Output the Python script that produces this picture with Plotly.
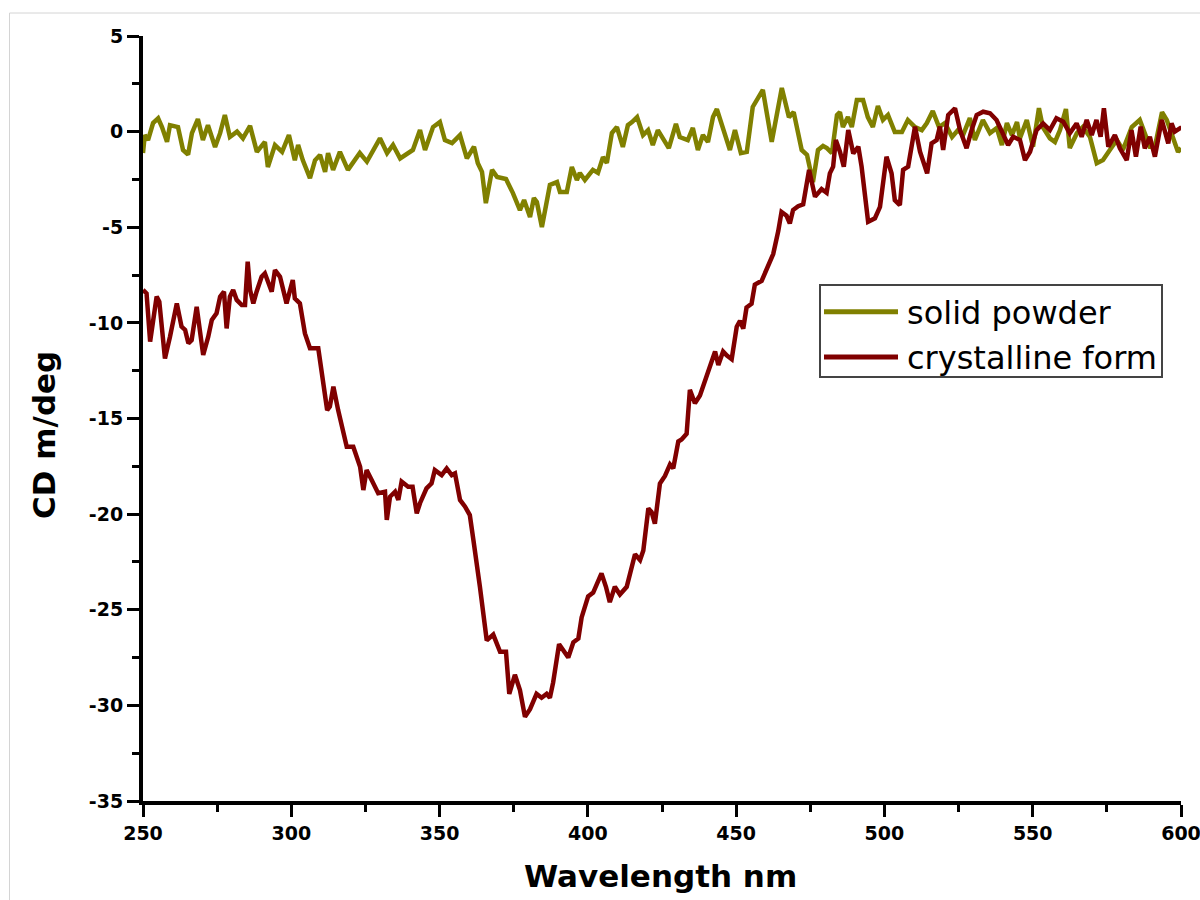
import plotly.graph_objects as go

# CD spectra: wavelength (nm) and ellipticity (m/deg)
wl_powder = [
    250.0, 250.6, 251.7, 253.4, 255.1, 256.4, 258.1, 259.1, 261.8, 263.5,
    265.2, 266.5, 268.5, 270.2, 271.9, 274.3, 276.0, 277.6, 279.3, 281.7,
    283.7, 286.1, 288.4, 291.1, 292.1, 294.5, 296.9, 299.2, 301.2, 302.3,
    303.9, 306.3, 308.0, 309.7, 311.4, 312.4, 314.1, 316.4, 319.1, 323.1,
    325.5, 329.9, 332.3, 334.3, 336.7, 341.0, 343.4, 345.1, 347.8, 350.1,
    351.8, 354.2, 356.9, 359.2, 361.6, 362.9, 364.3, 365.6, 367.7, 369.4,
    372.4, 374.7, 377.1, 378.5, 380.5, 381.8, 382.8, 384.5, 387.2, 389.6,
    390.6, 392.9, 394.6, 396.3, 397.3, 399.0, 401.7, 403.4, 405.1, 406.4,
    408.1, 409.8, 411.8, 413.5, 414.9, 416.6, 418.6, 420.3, 421.9, 423.6,
    425.3, 427.3, 429.7, 431.0, 433.7, 435.4, 437.1, 438.8, 440.5, 442.2,
    443.5, 445.5, 447.9, 449.6, 451.6, 453.6, 455.6, 459.0, 462.0, 465.4,
    467.8, 469.4, 472.1, 473.9, 475.9, 477.6, 479.3, 480.6, 482.3, 484.0,
    485.0, 486.0, 487.7, 489.0, 490.7, 492.8, 494.4, 496.1, 497.8, 499.5,
    501.2, 503.5, 505.9, 507.9, 510.3, 512.6, 514.3, 516.3, 518.4, 520.4,
    522.8, 524.8, 526.5, 528.8, 530.5, 533.2, 535.6, 537.9, 539.6, 541.3,
    543.0, 544.7, 545.7, 548.0, 550.1, 552.1, 553.4, 555.8, 557.5, 559.2,
    561.2, 562.5, 564.9, 566.9, 569.3, 571.6, 573.7, 576.0, 578.4, 580.4,
    583.4, 586.1, 587.8, 589.5, 591.2, 593.6, 595.2, 597.3, 599.0, 600.0,
]
cd_powder = [
    -1.12, -0.18, -0.44, 0.45, 0.70, 0.24, -0.53, 0.34, 0.24, -0.96,
    -1.20, -0.08, 0.66, -0.44, 0.34, -0.80, -0.08, 0.87, -0.28, 0.00,
    -0.35, 0.30, -1.06, -0.54, -1.85, -0.70, -1.06, -0.18, -1.50, -0.70,
    -1.50, -2.43, -1.50, -1.22, -2.10, -1.12, -2.00, -1.06, -2.00, -1.12,
    -1.57, -0.35, -1.12, -0.70, -1.40, -0.96, 0.08, -0.96, 0.24, 0.50,
    -0.44, -0.60, -0.18, -1.40, -0.79, -1.65, -2.10, -3.74, -2.00, -2.37,
    -2.48, -3.20, -4.10, -3.58, -4.47, -3.47, -3.68, -4.99, -2.79, -2.64,
    -3.16, -3.16, -1.85, -2.53, -2.16, -2.53, -2.00, -2.16, -1.33, -1.64,
    -0.07, 0.24, -0.80, 0.34, 0.50, 0.76, -0.18, 0.08, -0.70, 0.08,
    -0.35, -0.86, 0.40, -0.28, -0.44, 0.19, -0.96, -0.18, -0.54, 0.76,
    1.18, 0.24, -0.96, 0.08, -1.12, -1.06, 1.29, 2.18, -0.54, 2.28,
    0.76, 1.02, -0.96, -1.22, -2.64, -0.96, -0.75, -0.86, -1.12, 0.87,
    1.02, 0.24, 0.76, 0.24, 1.65, 1.65, 0.76, 0.24, 1.34, 0.61,
    0.87, -0.02, -0.02, 0.61, 0.24, 0.08, 0.45, 1.08, 0.24, 0.45,
    -0.28, 0.08, -0.18, 0.71, -0.44, 0.61, -0.08, 0.19, -0.70, 0.45,
    -0.18, 0.50, -0.35, 0.61, -0.79, 1.23, 0.24, -0.35, -0.54, 0.08,
    1.18, -0.86, -0.08, 0.24, -0.28, -1.65, -1.49, -0.96, -0.44, -0.96,
    0.24, 0.61, -0.18, -0.79, -0.79, 1.02, 0.61, -0.28, -1.06, -0.85,
]

wl_crystal = [
    250.0, 251.2, 252.4, 253.3, 254.6, 255.5, 257.4, 259.1, 261.4, 263.0,
    264.2, 265.3, 266.4, 268.1, 269.2, 270.3, 272.0, 273.2, 274.8, 276.0,
    277.3, 278.2, 279.3, 280.4, 281.6, 283.3, 284.4, 285.3, 286.1, 287.2,
    288.3, 290.0, 291.1, 292.2, 293.4, 294.5, 296.2, 298.4, 299.3, 300.5,
    301.2, 302.9, 304.6, 306.3, 309.1, 310.6, 312.1, 313.0, 314.2, 315.8,
    318.7, 320.9, 323.2, 324.3, 325.4, 327.1, 329.3, 331.6, 332.2, 333.3,
    335.0, 336.1, 337.2, 339.4, 340.9, 342.3, 343.4, 345.6, 347.3, 348.4,
    350.7, 352.4, 354.1, 355.2, 356.9, 358.6, 360.2, 361.4, 362.5, 363.6,
    365.9, 368.1, 370.4, 372.4, 373.5, 375.4, 377.1, 378.8, 380.5, 382.7,
    384.4, 386.1, 387.2, 388.3, 390.3, 393.4, 395.1, 396.8, 397.9, 400.1,
    401.8, 404.6, 406.1, 407.4, 409.1, 410.8, 413.1, 414.8, 415.9, 417.6,
    418.7, 420.4, 421.5, 422.6, 424.3, 426.0, 427.7, 428.8, 430.5, 431.6,
    433.3, 434.4, 436.1, 437.8, 440.0, 441.7, 442.9, 444.0, 445.6, 446.8,
    448.5, 450.2, 451.3, 452.4, 453.5, 455.2, 456.3, 458.6, 460.8, 462.5,
    464.2, 465.3, 467.0, 468.1, 469.2, 470.9, 472.6, 474.6, 476.6, 478.8,
    480.5, 481.6, 482.7, 483.6, 485.0, 486.3, 487.8, 489.5, 491.2, 492.3,
    494.5, 496.8, 498.5, 500.7, 502.4, 503.5, 505.2, 506.3, 508.0, 510.3,
    512.0, 514.4, 515.9, 517.6, 518.7, 519.8, 521.5, 523.8, 525.5, 527.7,
    529.4, 531.1, 533.3, 535.6, 537.8, 540.0, 541.7, 543.4, 545.7, 547.4,
    549.1, 551.3, 553.5, 555.8, 558.0, 560.3, 562.5, 564.8, 566.5, 568.2,
    569.9, 571.5, 572.9, 574.0, 575.5, 577.7, 579.4, 581.7, 583.3, 584.8,
    586.4, 587.8, 589.5, 591.2, 593.5, 595.7, 596.8, 597.9, 599.6, 600.0,
]
cd_crystal = [
    -8.28, -8.46, -10.98, -9.85, -8.63, -8.89, -11.86, -10.72, -8.98, -10.20,
    -10.37, -11.07, -10.90, -9.16, -10.37, -11.68, -10.72, -9.85, -9.50, -8.63,
    -8.37, -10.29, -8.63, -8.28, -8.80, -9.07, -9.07, -6.80, -8.28, -8.98,
    -8.37, -7.59, -7.41, -7.85, -8.37, -7.24, -7.59, -8.98, -8.54, -7.76,
    -8.72, -8.98, -10.55, -11.33, -11.33, -13.16, -14.56, -14.38, -13.34, -14.56,
    -16.48, -16.48, -17.52, -18.74, -17.70, -18.22, -18.91, -18.83, -20.30, -19.09,
    -18.83, -19.26, -18.30, -18.57, -18.57, -19.96, -19.43, -18.65, -18.39, -17.70,
    -17.96, -17.61, -17.96, -17.87, -19.26, -19.61, -20.05, -21.35, -22.50, -23.80,
    -26.60, -26.30, -27.20, -27.20, -29.40, -28.40, -29.20, -30.60, -30.20, -29.40,
    -29.60, -29.40, -29.60, -28.80, -26.80, -27.50, -26.70, -26.50, -25.40, -24.30,
    -24.10, -23.10, -23.80, -24.60, -23.80, -24.20, -23.80, -22.80, -22.10, -22.40,
    -21.90, -19.70, -19.90, -20.50, -18.40, -18.00, -17.40, -17.60, -16.20, -16.10,
    -15.80, -13.50, -14.20, -13.80, -12.80, -11.90, -11.50, -12.20, -11.50, -11.70,
    -11.90, -10.20, -9.90, -10.30, -9.20, -9.00, -8.00, -7.80, -7.00, -6.40,
    -5.20, -4.20, -4.40, -4.80, -4.10, -3.90, -3.80, -2.00, -3.40, -3.00,
    -3.20, -2.18, -1.83, -0.44, -1.05, -1.83, 0.08, -1.14, -0.79, -1.83,
    -4.71, -4.53, -3.93, -1.31, -2.18, -3.58, -3.84, -2.00, -1.83, 0.26,
    -1.05, -2.18, -0.61, -0.44, 0.26, -0.96, 0.87, 1.22, 0.08, -0.87,
    0.08, 0.87, 1.04, 0.96, 0.61, -0.18, -0.70, -0.27, -0.44, -1.49,
    -1.05, 0.08, 0.43, 0.08, 0.70, 0.52, -0.09, 0.43, -0.27, 0.61,
    -0.18, 0.61, -0.27, 1.22, -0.79, -0.18, -0.87, -1.49, 0.08, -1.31,
    0.26, -0.87, -0.27, -1.31, 0.61, -0.61, 0.43, 0.00, 0.17, 0.10,
]

series_names = ["solid powder", "crystalline form"]
series_colors = ["#808000", "#800000"]

x_ticks = [250, 300, 350, 400, 450, 500, 550, 600]
y_ticks = [5, 0, -5, -10, -15, -20, -25, -30, -35]

fig = go.Figure()
for wl, cd, name, color in zip(
    [wl_powder, wl_crystal], [cd_powder, cd_crystal], series_names, series_colors
):
    fig.add_trace(go.Scatter(
        x=wl, y=cd, mode="lines", name=name,
        line=dict(color=color, width=4.5),
        showlegend=False,
    ))

tick_font = dict(family="DejaVu Sans", size=19, color="black", weight="bold")
axis_common = dict(
    showgrid=False, zeroline=False, showline=True, linecolor="black",
    linewidth=4, ticks="outside", ticklen=12, tickwidth=3, tickcolor="black",
    tickfont=tick_font, mirror=False, automargin=False,
    ticklabeloverflow="allow",
)

fig.update_xaxes(
    range=[250, 600], tickvals=x_ticks, ticktext=[str(v) for v in x_ticks],
    minor=dict(dtick=25, tick0=250, ticks="outside", ticklen=7,
               tickwidth=3, tickcolor="black"),
    **axis_common,
)
fig.update_yaxes(
    range=[-35, 5], tickvals=y_ticks, ticktext=[str(v) for v in y_ticks],
    minor=dict(dtick=2.5, tick0=0, ticks="outside", ticklen=7,
               tickwidth=3, tickcolor="black"),
    **axis_common,
)

# Paper coordinates helpers for the fixed 1038 x 765 plot area
PL, PT, PW, PH = 143, 36, 1038, 765


def px(x):
    return (x - PL) / PW


def py(y):
    return (PT + PH - y) / PH


shapes = [
    # thin page frame (top and left edges)
    dict(type="line", xref="paper", yref="paper", x0=px(9.5), x1=px(1200),
         y0=py(13), y1=py(13), line=dict(color="#d4d4d4", width=1)),
    dict(type="line", xref="paper", yref="paper", x0=px(9.5), x1=px(9.5),
         y0=py(13), y1=py(900), line=dict(color="#d4d4d4", width=1)),
    # legend box
    dict(type="rect", xref="paper", yref="paper", x0=px(820), x1=px(1162),
         y0=py(377), y1=py(285), fillcolor="white",
         line=dict(color="#444444", width=2)),
]
legend_rows = [311.7, 357.0]
annotations = []
for name, color, yrow in zip(series_names, series_colors, legend_rows):
    shapes.append(dict(type="line", xref="paper", yref="paper",
                       x0=px(824), x1=px(898), y0=py(yrow), y1=py(yrow),
                       line=dict(color=color, width=5)))
    annotations.append(dict(
        text=name, xref="paper", yref="paper", x=px(905), y=py(yrow + 1),
        xanchor="left", yanchor="middle", showarrow=False,
        font=dict(family="DejaVu Sans", size=32, color="black"),
    ))

annotations.append(dict(
    text="Wavelength nm", xref="paper", yref="paper", x=px(660), y=py(876),
    xanchor="center", yanchor="middle", showarrow=False,
    font=dict(family="DejaVu Sans", size=31, color="black", weight="bold"),
))
annotations.append(dict(
    text="CD m/deg", xref="paper", yref="paper", x=px(44), y=py(435),
    xanchor="center", yanchor="middle", showarrow=False, textangle=-90,
    font=dict(family="DejaVu Sans", size=31, color="black", weight="bold"),
))

fig.update_layout(
    width=1200, height=900, autosize=False,
    margin=dict(l=PL, r=1200 - PL - PW, t=PT, b=900 - PT - PH),
    plot_bgcolor="white", paper_bgcolor="white",
    shapes=shapes, annotations=annotations,
)

fig.write_html("out.html")
